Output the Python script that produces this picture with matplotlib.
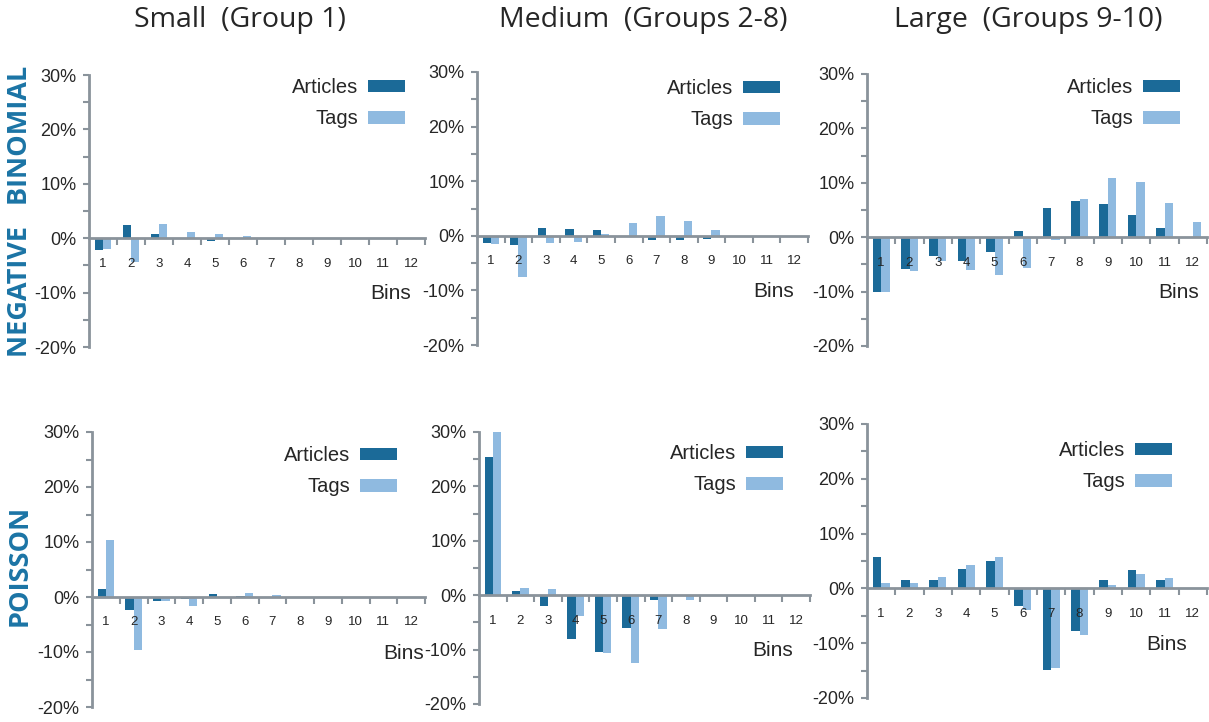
import matplotlib
matplotlib.use("Agg")
import matplotlib.pyplot as plt
import numpy as np

plt.rcParams['axes.unicode_minus'] = False

# data (percent deviation per bin)
bins = list(range(1, 13))
titles = ["Small  (Group 1)", "Medium  (Groups 2-8)", "Large  (Groups 9-10)"]
rows = ["NEGATIVE   BINOMIAL", "POISSON"]

nb_small_articles = [-2.2, 2.4, 0.7, -0.2, -0.6, -0.2, -0.2, 0, 0, 0, 0, 0]
nb_small_tags = [-2.0, -4.4, 2.6, 1.2, 0.8, 0.4, 0.1, 0, 0, 0, 0, 0]
nb_medium_articles = [-1.4, -1.7, 1.4, 1.2, 1.0, 0, -0.7, -0.7, -0.5, -0.3, 0, 0]
nb_medium_tags = [-1.5, -7.5, -1.4, -1.1, 0.4, 2.4, 3.6, 2.8, 1.0, -0.1, 0, 0]
nb_large_articles = [-10.0, -5.9, -3.5, -4.3, -2.7, 1.1, 5.3, 6.7, 6.1, 4.1, 1.6, 0]
nb_large_tags = [-10.0, -6.3, -4.3, -6.1, -6.9, -5.7, -0.5, 7.1, 10.8, 10.1, 6.3, 2.8]

po_small_articles = [1.4, -2.4, -0.8, -0.3, 0.6, 0.2, 0, 0, 0, 0, 0, 0]
po_small_tags = [10.3, -9.7, -0.7, -1.7, 0, 0.8, 0.4, 0, 0, 0, 0, 0]
po_medium_articles = [25.4, 0.7, -1.9, -8.0, -10.5, -6.0, -0.9, 0.1, 0.1, 0, 0, 0]
po_medium_tags = [30.1, 1.4, 1.2, -3.8, -10.7, -12.4, -6.2, -0.9, 0, 0, 0, 0]
po_large_articles = [5.8, 1.6, 1.6, 3.6, 5.0, -3.3, -14.8, -7.8, 1.6, 3.4, 1.6, 0]
po_large_tags = [0.9, 0.9, 2.1, 4.2, 5.8, -3.9, -14.6, -8.5, 0.6, 2.6, 1.9, 0]

panels = [
    (nb_small_articles, nb_small_tags),
    (nb_medium_articles, nb_medium_tags),
    (nb_large_articles, nb_large_tags),
    (po_small_articles, po_small_tags),
    (po_medium_articles, po_medium_tags),
    (po_large_articles, po_large_tags),
]

W, H = 1209, 722
# axes boxes in pixels: left, right, top, bottom
boxes = [
    (89, 425, 75, 347), (477, 808, 72, 345), (867, 1207, 74, 346),
    (92, 425, 432, 707), (479, 810, 432, 704), (867, 1207, 424, 698),
]
# legend anchor: right edge of the swatch, centre of first row (pixels)
leg_anchor = [(405, 85), (780, 86), (1180, 85), (397, 453), (783, 451), (1172, 448)]
# right end of the "Bins" label, in bin units
bins_x = [12.0, 12.0, 12.2, 12.45, 11.9, 11.8]

DARK = "#1b6a98"
LIGHT = "#8fbae0"
GREY = "#8a939b"
TXT = "#262626"
ROWC = "#1b74a5"
FONT = ['Liberation Sans', 'DejaVu Sans']

fig = plt.figure(figsize=(W / 100, H / 100), dpi=100)

x = np.array(bins)
w = 0.3
for i, (art, tag) in enumerate(panels):
    l, r, t, b = boxes[i]
    ax = fig.add_axes([l / W, 1 - b / H, (r - l) / W, (b - t) / H])
    ax.bar(x - w / 2, art, w, color=DARK, label="Articles")
    ax.bar(x + w / 2, tag, w, color=LIGHT, label="Tags")
    ax.set_xlim(0.5, 12.5)
    ax.set_ylim(-20, 30)

    for s in ["top", "right"]:
        ax.spines[s].set_visible(False)
    ax.spines["bottom"].set_position(("data", 0))
    for s in ["left", "bottom"]:
        ax.spines[s].set_color(GREY)
        ax.spines[s].set_linewidth(2)

    ax.set_yticks(np.arange(-20, 31, 10))
    ax.set_yticks(np.arange(-15, 30, 10), minor=True)
    ax.set_yticklabels(["%d%%" % v for v in range(-20, 31, 10)],
                       fontsize=13, color=TXT, family=FONT)
    ax.tick_params(axis="y", which="both", length=4, width=1.5, color=GREY, pad=5)

    ax.set_xticks(np.arange(1.5, 12.6, 1))
    ax.set_xticklabels([])
    ax.set_xticks(x, minor=True)
    ax.set_xticklabels([str(v) for v in bins], minor=True,
                       fontsize=9.5, color=TXT, family=FONT)
    ax.tick_params(axis="x", which="major", length=5, width=1.5, color=GREY)
    ax.tick_params(axis="x", which="minor", length=0, pad=14)

    ax.text(bins_x[i], -10.2, "Bins", ha="right", va="center",
            fontsize=15, color=TXT, family=FONT)

    ax_x, ax_y = leg_anchor[i]
    ax.legend(loc="upper right", bbox_to_anchor=(ax_x / W, 1 - (ax_y - 7) / H),
              bbox_transform=fig.transFigure, frameon=False, markerfirst=False,
              borderpad=0, borderaxespad=0, handlelength=1.85, handleheight=0.57,
              handletextpad=0.45, labelspacing=0.62,
              prop={"family": FONT, "size": 14.5}, labelcolor=TXT)

    if i < 3:
        fig.text([240, 643, 1028][i] / W, 1 - 20 / H, titles[i], ha="center",
                 va="center", fontsize=20.5, color=TXT, family="Open Sans")

fig.text(20 / W, 1 - 211 / H, rows[0], rotation=90, ha="center", va="center",
         fontsize=19.5, fontweight="bold", color=ROWC, family="Open Sans")
fig.text(20 / W, 1 - 565 / H, rows[1], rotation=90, ha="center", va="center",
         fontsize=19.5, fontweight="bold", color=ROWC, family="Open Sans")

fig.savefig("out.png", dpi=100)
